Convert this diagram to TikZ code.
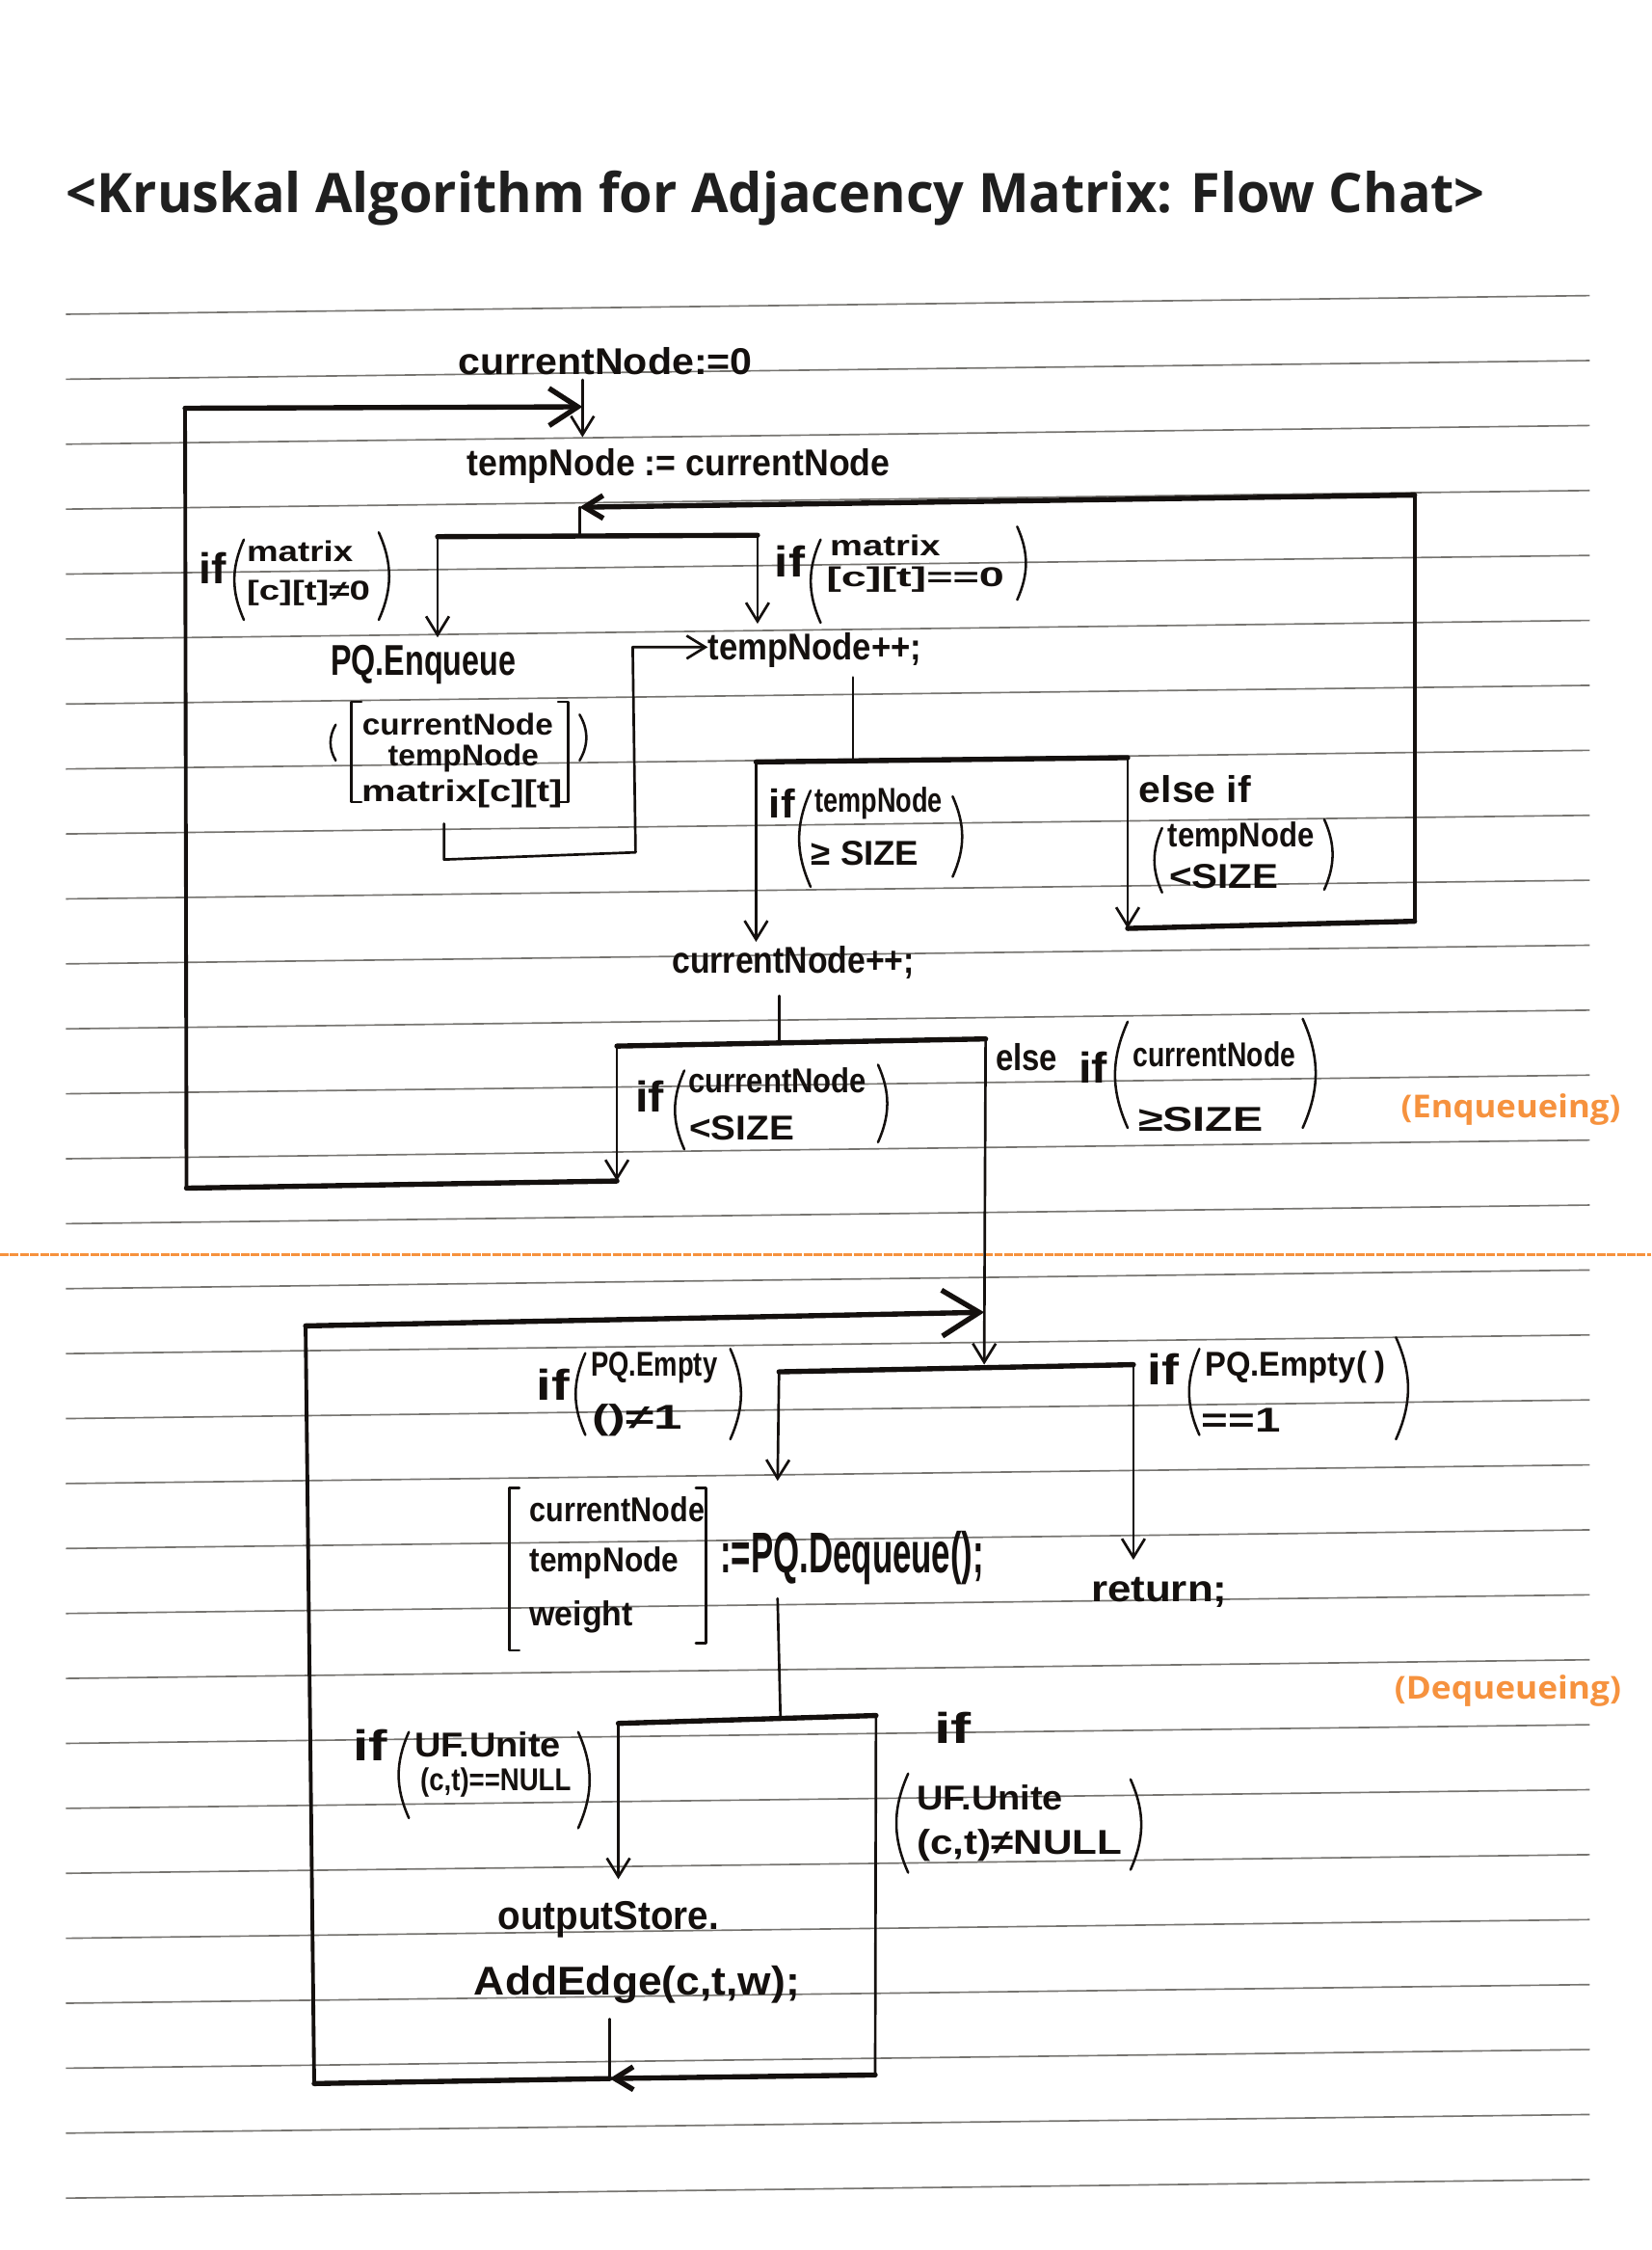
\documentclass[tikz,border=0pt]{standalone}
\usepackage{fontspec}
\usepackage{graphicx}
\setmainfont{Liberation Sans}
\newfontfamily\headfont{Open Sans}
\usetikzlibrary{arrows.meta}
\definecolor{ink}{RGB}{20,16,14}
\definecolor{hiorange}{RGB}{246,146,62}
\definecolor{ruleline}{RGB}{118,116,112}
% handwritten-style text squeezed to a given width
\newcommand{\hw}[3][26]{\resizebox{#2pt}{\height}{\fontsize{#1}{#1}\selectfont\bfseries #3}}
% large parentheses and brackets drawn as strokes
\newcommand{\OpenPar}[3]{\draw[paren] (#1,#2) to[bend right=24] (#1,#3);}
\newcommand{\ClosePar}[3]{\draw[paren] (#1,#2) to[bend left=24] (#1,#3);}
\newcommand{\OpenBrk}[3]{\draw[paren] (#1+7,#2) -- (#1,#2) -- (#1,#3) -- (#1+7,#3);}
\newcommand{\CloseBrk}[3]{\draw[paren] (#1-7,#2) -- (#1,#2) -- (#1,#3) -- (#1-7,#3);}
\begin{document}
\begin{tikzpicture}[x=1pt,y=-1pt,
  hw/.style={inner sep=0pt,text=ink},
  conn/.style={draw=ink,line width=1.8pt,line cap=round,line join=round},
  heavy/.style={conn,line width=3.6pt},
  side/.style={conn,line width=2.6pt},
  arr/.style={-{Straight Barb[length=13pt,width=16pt]}},
  bigarr/.style={-{Straight Barb[length=20pt,width=26pt]}},
  hugearr/.style={-{Straight Barb[length=26pt,width=32pt]}},
  paren/.style={draw=ink,line width=1.7pt,line cap=round,line join=round},
  rule/.style={draw=ruleline,line width=1.1pt}]

\fill[white] (0,0) rectangle (1151,1568);
\useasboundingbox (0,0) rectangle (1151,1568);

% ruled paper
\foreach \k in {0,...,29}
  \draw[rule] (46,{219+45.27*\k}) -- (1108,{206+45.27*\k});

% divider between the two phases
\draw[hiorange,line width=1.8pt,dash pattern=on 6pt off 1pt] (0,874.5) -- (1151,874.5);

% title
\node[anchor=base west,inner sep=0pt,text=black!88] (title) at (46,148.2)
  {\resizebox{989pt}{\height}{\headfont\bfseries\fontsize{38}{40}\selectfont <Kruskal Algorithm for Adjacency Matrix: Flow Chat>}};

% ---------- enqueueing phase: statements ----------
\node[hw] (cur0)   at (422,252) {\hw{205}{currentNode:=0}};
\node[hw] (tmpset) at (473,325) {\hw{295}{tempNode := currentNode}};
\node[hw] (enq)    at (295,463) {\hw[30]{129}{PQ.Enqueue}};
\node[hw] (enqA)   at (319,505) {\hw[21]{133}{currentNode}};
\node[hw] (enqB)   at (323,528) {\hw[21]{105}{tempNode}};
\node[hw] (enqC)   at (322,553) {\hw[21]{140}{matrix[c][t]}};
\OpenBrk{245}{489}{559}
\CloseBrk{396}{489}{559}
\draw[paren] (234,505) to[bend right=30] (234,530);
\draw[paren] (404,498) to[bend left=30] (404,530);
\node[hw] (tinc)   at (568,453) {\hw{149}{tempNode++;}};
\node[hw] (cinc)   at (553,671) {\hw{169}{currentNode++;}};

% ---------- enqueueing phase: conditions ----------
\node[hw] (c1if) at (148.5,396) {\hw[30]{19}{if}};
\node[hw] (c1a)  at (209,384)   {\hw[20]{74}{matrix}};
\node[hw] (c1b)  at (215,413)   {\hw[19]{86}{[c][t]≠0}};
\OpenPar{170}{376}{432}
\ClosePar{264}{371}{432}

\node[hw] (c2if) at (550.5,391) {\hw[30]{21}{if}};
\node[hw] (c2a)  at (617,380)   {\hw[20]{77}{matrix}};
\node[hw] (c2b)  at (638,404)   {\hw[19]{124}{[c][t]==0}};
\OpenPar{572}{376}{434}
\ClosePar{709}{367}{418}

\node[hw] (c3if) at (545,560)   {\hw[28]{18}{if}};
\node[hw] (c3a)  at (612.5,560) {\hw[24]{89}{tempNode}};
\node[hw] (c3b)  at (603,595)   {\hw[24]{75}{≥ SIZE}};
\OpenPar{565}{551}{618}
\ClosePar{664}{555}{611}

\node[hw] (c4e)  at (833,550)   {\hw[26]{78}{else if}};
\node[hw] (c4a)  at (865,584)   {\hw[24]{102}{tempNode}};
\node[hw] (c4b)  at (853,611)   {\hw[24]{76}{<SIZE}};
\OpenPar{810}{577}{622}
\ClosePar{923}{571}{620}

\node[hw] (c5if) at (453,764)   {\hw[30]{20}{if}};
\node[hw] (c5a)  at (542,753)   {\hw[24]{124}{currentNode}};
\node[hw] (c5b)  at (517,786)   {\hw[24]{73}{<SIZE}};
\OpenPar{477}{746}{801}
\ClosePar{612}{742}{796}

\node[hw] (c6e)  at (715.5,737) {\hw[26]{43}{else}};
\node[hw] (c6if) at (762,744)   {\hw[30]{20}{if}};
\node[hw] (c6a)  at (846.5,735) {\hw[24]{113}{currentNode}};
\node[hw] (c6b)  at (837,780)   {\hw[24]{87}{≥SIZE}};
\OpenPar{786}{712}{786}
\ClosePar{908}{710}{786}

\node[inner sep=0pt,text=hiorange] (enqtag) at (1053,773)
  {\resizebox{153pt}{\height}{\headfont\bfseries\fontsize{22}{24}\selectfont (Enqueueing)}};

% ---------- enqueueing phase: connectors ----------
\coordinate (j0) at (406,283.5);
\coordinate (a1) at (430,823);
\coordinate (a2) at (130,828);
\coordinate (a3) at (129,284.5);
\coordinate (j1) at (404,353.5);
\coordinate (b1m) at (404,373.5);
\coordinate (b1L) at (305,374);
\coordinate (b1R) at (528,373);
\coordinate (e0) at (309.5,574);
\coordinate (e1) at (309.5,599);
\coordinate (e2) at (443,594);
\coordinate (e3) at (441,451);
\coordinate (s2) at (594.6,472);
\coordinate (b2m) at (594.6,530.5);
\coordinate (b2L) at (527,531);
\coordinate (b2R) at (786,528);
\coordinate (bB1) at (786,647);
\coordinate (bB2) at (986,642);
\coordinate (bB3) at (986,345);
\coordinate (s3) at (543,694);
\coordinate (b3m) at (543,727);
\coordinate (b3L) at (430,729);
\coordinate (b3R) at (687,724);
\coordinate (j3) at (686,914.5);
\coordinate (j3tip) at (686,951);

\draw[conn,arr] ([yshift=-3pt]cur0.south -| j0) -- ([yshift=8pt]tmpset.north -| j0);
\draw[conn] (j1) -- (b1m);
\draw[heavy] (b1L) -- (b1R);
\draw[conn,arr] (b1L) -- ([yshift=5pt]enq.north -| b1L);
\draw[conn,arr] (b1R) -- ([yshift=6pt]tinc.north -| b1R);
\draw[conn,arr] (e0) -- (e1) -- (e2) -- (e3) -- (e3 -| tinc.west);
\draw[conn] (s2) -- (b2m);
\draw[heavy] (b2L) -- (b2R);
\draw[conn,arr] (b2L) -- ([yshift=3pt]cinc.north -| b2L);
\draw[conn,arr] (b2R) -- (bB1);
\draw[heavy] (bB1) -- (bB2);
\draw[side] (bB2) -- (bB3);
\draw[heavy,arr] (bB3) -- (j1);
\draw[conn] (s3) -- (b3m);
\draw[heavy] (b3L) -- (b3R);
\draw[conn,arr] (b3L) -- (a1);
\draw[heavy] (a1) -- (a2);
\draw[side] (a2) -- (a3);
\draw[heavy,bigarr] (a3) -- (j0);
\draw[conn,arr] (b3R) -- (j3tip);

% ---------- dequeueing phase: statements ----------
\node[hw,anchor=west] (deqA) at (369,1052) {\hw[24]{122}{currentNode}};
\node[hw,anchor=west] (deqB) at (369,1089) {\hw[24]{104}{tempNode}};
\node[hw,anchor=west] (deqC) at (369,1127) {\hw[24]{72}{weight}};
\OpenBrk{355}{1037}{1150}
\CloseBrk{492}{1037}{1145}
\node[hw,anchor=base] (deq) at (594,1096) {\hw[40]{184}{:=PQ.Dequeue();}};
\node[hw] (ret) at (808,1110) {\hw{95}{return;}};
\node[hw] (store) at (424,1338) {\hw[28]{154}{outputStore.}};
\node[hw] (addedge) at (444,1383) {\hw[28]{227}{AddEdge(c,t,w);}};

% ---------- dequeueing phase: conditions ----------
\node[hw] (d1if) at (385.5,965) {\hw[30]{23}{if}};
\node[hw] (d1a)  at (456,953)   {\hw[24]{88}{PQ.Empty}};
\node[hw] (d1b)  at (444,990)   {\hw[24]{63}{()≠1}};
\OpenPar{408}{943}{1000}
\ClosePar{509}{940}{1003}

\node[hw] (d2if) at (811,954)   {\hw[30]{22}{if}};
\node[hw] (d2a)  at (903,953)   {\hw[24]{126}{PQ.Empty( )}};
\node[hw] (d2b)  at (865,990)   {\hw[24]{55}{==1}};
\OpenPar{836}{940}{1000}
\ClosePar{973}{932}{1003}

\node[hw] (d3if) at (258,1216)  {\hw[30]{24}{if}};
\node[hw] (d3a)  at (340,1216)  {\hw[24]{102}{UF.Unite}};
\node[hw] (d3b)  at (345.5,1242){\hw[22]{105}{(c,t)==NULL}};
\OpenPar{285}{1207}{1267}
\ClosePar{403}{1207}{1274}

\node[hw] (d4if) at (664,1204)  {\hw[30]{26}{if}};
\node[hw] (d4a)  at (690,1253)  {\hw[24]{102}{UF.Unite}};
\node[hw] (d4b)  at (710.5,1286){\hw[24]{143}{(c,t)≠NULL}};
\OpenPar{633}{1236}{1305}
\ClosePar{788}{1240}{1303}

\node[inner sep=0pt,text=hiorange] (deqtag) at (1051,1178)
  {\resizebox{158pt}{\height}{\headfont\bfseries\fontsize{22}{24}\selectfont (Dequeueing)}};

% ---------- dequeueing phase: connectors ----------
\coordinate (b4L) at (543,956);
\coordinate (b4R) at (790,951);
\coordinate (deqin) at (542,1032);
\coordinate (retin) at (790,1087);
\coordinate (s4) at (542,1114);
\coordinate (b5m) at (544,1197.5);
\coordinate (b5L) at (431,1201);
\coordinate (b5R) at (610.6,1195.5);
\coordinate (storein) at (431,1309.6);
\coordinate (cC1) at (610,1446);
\coordinate (jc) at (425,1448.5);
\coordinate (addout) at (425,1407);
\coordinate (cC2) at (219,1452);
\coordinate (cC3) at (213,924);

\draw[heavy] (b4L) -- (b4R);
\draw[conn,arr] (b4L) -- (deqin);
\draw[conn,arr] (b4R) -- (retin);
\draw[conn] (s4) -- (b5m);
\draw[heavy] (b5L) -- (b5R);
\draw[conn,arr] (b5L) -- (storein);
\draw[conn] (b5R) -- (cC1);
\draw[heavy,arr] (cC1) -- (jc);
\draw[conn] (addout) -- (jc);
\draw[heavy] (jc) -- (cC2);
\draw[side] (cC2) -- (cC3);
\draw[heavy,hugearr] (cC3) -- (j3);
\end{tikzpicture}
\end{document}
